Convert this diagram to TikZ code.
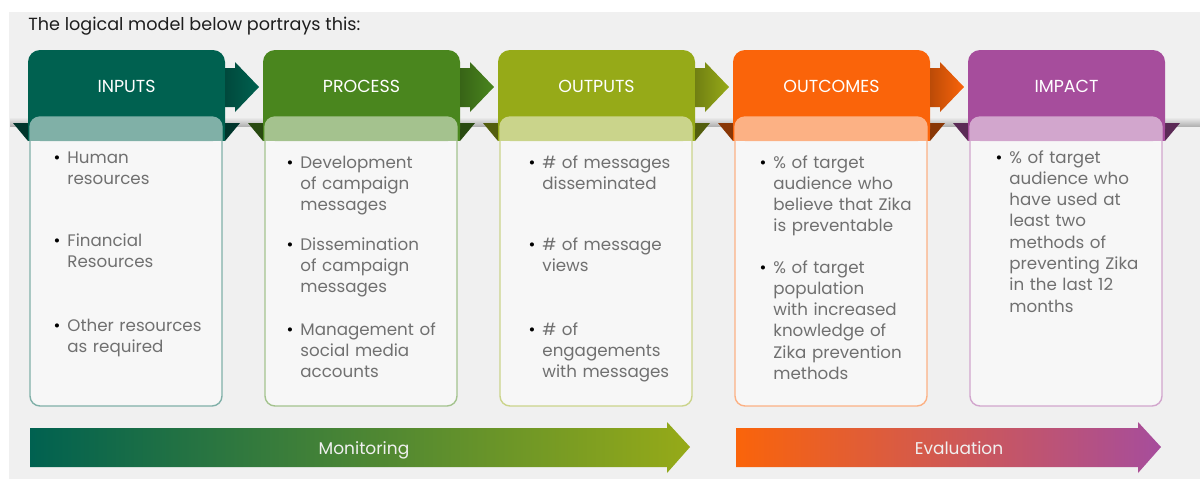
\documentclass[tikz,border=0pt]{standalone}
\usepackage{fontspec}
\setmainfont{Poppins}
\definecolor{inputsgreen}{RGB}{0, 97, 80}
\definecolor{processgreen}{RGB}{74, 134, 30}
\definecolor{outputsolive}{RGB}{150, 170, 24}
\definecolor{outcomesorange}{RGB}{250, 100, 10}
\definecolor{impactpurple}{RGB}{166, 77, 156}
\definecolor{bggray}{RGB}{240, 240, 240}
\definecolor{textgray}{RGB}{112, 112, 112}
\definecolor{titlegray}{RGB}{30, 30, 30}
\newcommand{\bul}{\llap{\textcolor{black}{\textbullet}\hspace{3.5pt}}}

\begin{document}
\begin{tikzpicture}[
        x=0.5pt, y=-0.5pt,
        title/.style={anchor=base west, inner sep=0pt, text=titlegray,
            font=\fontsize{8.8}{11}\selectfont},
        header/.style={inner sep=0pt, text=white,
            font=\fontsize{8.7}{10}\selectfont},
        item/.style={anchor=base west, inner sep=0pt, text width=95pt,
            align=left, text=textgray,
            font=\fontsize{8.35}{10.65}\selectfont},
        panel/.style={fill=white, fill opacity=0.5, line width=0.7pt,
            rounded corners=5pt},
        bandtext/.style={anchor=base, inner sep=0pt, text=bggray,
            font=\fontsize{8.5}{10}\selectfont}
    ]

    \useasboundingbox (0,0) rectangle (1200,479);
    \fill[bggray] (9,12) rectangle (1200,479);

    \node[title] (heading) at (28,30) {The logical model below portrays this:};

    % ribbon behind the headers
    \shade[top color=bggray, bottom color=black!30] (10,117) rectangle (1200,126);

    % folds
    \fill[inputsgreen!55!black] (13,123) -- (28,123) -- (28,141) -- cycle;
    \fill[inputsgreen!55!black] (225,123) -- (240,123) -- (225,141) -- cycle;
    \fill[processgreen!55!black] (248,123) -- (263,123) -- (263,141) -- cycle;
    \fill[processgreen!55!black] (460,123) -- (475,123) -- (460,141) -- cycle;
    \fill[outputsolive!55!black] (483,123) -- (498,123) -- (498,141) -- cycle;
    \fill[outputsolive!55!black] (695,123) -- (710,123) -- (695,141) -- cycle;
    \fill[outcomesorange!55!black] (718,123) -- (733,123) -- (733,141) -- cycle;
    \fill[outcomesorange!55!black] (930,123) -- (945,123) -- (930,141) -- cycle;
    \fill[impactpurple!55!black] (953,123) -- (968,123) -- (968,141) -- cycle;
    \fill[impactpurple!55!black] (1165,123) -- (1180,123) -- (1165,141) -- cycle;

    % headers
    \fill[inputsgreen, rounded corners=6pt] (28,50) rectangle (225,141);
    \fill[inputsgreen] (28,110) rectangle (225,141);
    \fill[processgreen, rounded corners=6pt] (263,50) rectangle (460,141);
    \fill[processgreen] (263,110) rectangle (460,141);
    \fill[outputsolive, rounded corners=6pt] (498,50) rectangle (695,141);
    \fill[outputsolive] (498,110) rectangle (695,141);
    \fill[outcomesorange, rounded corners=6pt] (733,50) rectangle (930,141);
    \fill[outcomesorange] (733,110) rectangle (930,141);
    \fill[impactpurple, rounded corners=6pt] (968,50) rectangle (1165,141);
    \fill[impactpurple] (968,110) rectangle (1165,141);

    % arrows between headers
    \shade[left color=inputsgreen!75!black, right color=inputsgreen]
        (225,68) -- (235,68) -- (235,62) -- (259,87) -- (235,112) -- (235,107) -- (225,107) -- cycle;
    \shade[left color=processgreen!75!black, right color=processgreen]
        (460,68) -- (470,68) -- (470,62) -- (494,87) -- (470,112) -- (470,107) -- (460,107) -- cycle;
    \shade[left color=outputsolive!75!black, right color=outputsolive]
        (695,68) -- (705,68) -- (705,62) -- (729,87) -- (705,112) -- (705,107) -- (695,107) -- cycle;
    \shade[left color=outcomesorange!75!black, right color=outcomesorange]
        (930,68) -- (940,68) -- (940,62) -- (964,87) -- (940,112) -- (940,107) -- (930,107) -- cycle;

    \node[header] (inputs) at (126.5,86) {INPUTS};
    \node[header] (process) at (361.5,86) {PROCESS};
    \node[header] (outputs) at (596.5,86) {OUTPUTS};
    \node[header] (outcomes) at (831.5,86) {OUTCOMES};
    \node[header] (impact) at (1066.5,86) {IMPACT};

    % panels
    \draw[panel, draw=inputsgreen!50] (30,117) rectangle (222,406);
    \draw[panel, draw=processgreen!50] (265,117) rectangle (457,406);
    \draw[panel, draw=outputsolive!50] (500,117) rectangle (692,406);
    \draw[panel, draw=outcomesorange!50] (735,117) rectangle (927,406);
    \draw[panel, draw=impactpurple!50] (970,117) rectangle (1162,406);

    % inputs
    \node[item] (human) at (67,163) {\bul Human\\resources};
    \node[item] (financial) at (67,246) {\bul Financial\\Resources};
    \node[item] (other) at (67,331) {\bul Other resources\\as required};

    % process
    \node[item] (development) at (300,168) {\bul Development\\of campaign\\messages};
    \node[item] (dissemination) at (300,250) {\bul Dissemination\\of campaign\\messages};
    \node[item] (management) at (300,335) {\bul Management of\\social media\\accounts};

    % outputs
    \node[item] (disseminated) at (542,168) {\bul \# of messages\\disseminated};
    \node[item] (views) at (542,250) {\bul \# of message\\views};
    \node[item] (engagements) at (542,335) {\bul \# of\\engagements\\with messages};

    % outcomes
    \node[item] (believe) at (773,168) {\bul \% of target\\audience who\\believe that Zika\\is preventable};
    \node[item] (knowledge) at (773,273) {\bul \% of target\\population\\with increased\\knowledge of\\Zika prevention\\methods};

    % impact
    \node[item] (methods) at (1009,163) {\bul \% of target\\audience who\\have used at\\least two\\methods of\\preventing Zika\\in the last 12\\months};

    % monitoring and evaluation
    \shade[left color=inputsgreen, right color=outputsolive]
        (30,428) -- (667,428) -- (667,422) -- (690,447) -- (667,473) -- (667,467) -- (30,467) -- cycle;
    \shade[left color=outcomesorange, right color=impactpurple]
        (736,428) -- (1138,428) -- (1138,422) -- (1161,447) -- (1138,473) -- (1138,467) -- (736,467) -- cycle;
    \node[bandtext] (monitoring) at (364,454) {Monitoring};
    \node[bandtext] (evaluation) at (959,454) {Evaluation};

\end{tikzpicture}
\end{document}
